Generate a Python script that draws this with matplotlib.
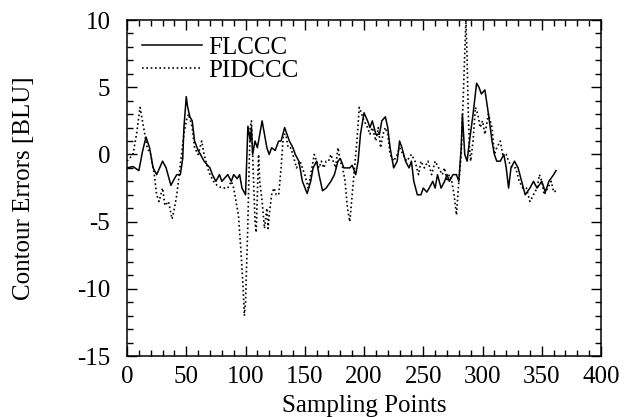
import matplotlib
matplotlib.use("Agg")
import matplotlib.pyplot as plt
from matplotlib.ticker import MultipleLocator

plt.rcParams['font.family'] = ['Liberation Serif', 'DejaVu Serif']
plt.rcParams['axes.unicode_minus'] = False

fl_x = [0, 5, 10, 13, 16, 19, 22, 25, 28, 30, 33, 37, 40, 42, 45, 47, 48, 50, 51, 53, 55, 57,
        60, 62, 65, 70, 72, 75, 78, 80, 85, 88, 90, 93, 95, 97, 100, 102, 104, 105, 106, 108,
        110, 112, 114, 116, 118, 120, 122, 125, 128, 130, 133, 135, 137, 140, 142, 145, 148,
        152, 155, 157, 160, 162, 165, 168, 172, 175, 178, 180, 183, 188, 190, 193, 195, 197,
        200, 203, 205, 207, 210, 213, 215, 218, 220, 222, 225, 228, 230, 232, 235, 238, 240,
        242, 245, 248, 250, 253, 255, 258, 260, 262, 265, 268, 270, 272, 275, 278, 280, 282,
        283, 285, 287, 289, 292, 295, 297, 299, 302, 305, 308, 310, 312, 315, 318, 320, 322,
        324, 327, 330, 333, 336, 340, 343, 346, 350, 353, 356, 360, 362]
fl_y = [-1.0, -0.9, -1.2, 0.2, 1.3, 0.5, -1.0, -1.5, -0.9, -0.5, -1.0, -2.3, -1.8, -1.5, -1.5,
        -0.3, 2.0, 4.3, 3.6, 2.8, 2.5, 1.0, 0.3, 0.0, -0.5, -1.0, -1.5, -2.0, -1.5, -2.0, -1.5,
        -2.0, -1.5, -1.8, -1.5, -2.5, -3.0, 2.1, 1.0, 2.0, 0.0, 1.0, 0.5, 1.5, 2.5, 1.5, 0.5,
        0.0, 0.5, 0.3, 1.0, 1.0, 2.0, 1.5, 1.0, 0.5, 0.0, -0.5, -2.0, -2.9, -2.0, -1.0, -0.5,
        -1.5, -2.7, -2.5, -2.0, -1.5, -0.5, -0.3, -1.0, -1.0, -0.8, -1.5, -0.5, 1.5, 3.1, 2.5,
        2.0, 2.5, 1.5, 1.5, 2.5, 2.8, 2.0, 0.5, -1.0, -0.5, 1.0, 0.5, -0.5, -1.0, -0.5, -2.0,
        -3.0, -3.0, -2.5, -2.8, -2.5, -2.0, -2.5, -1.5, -2.5, -2.0, -1.5, -2.0, -1.5, -1.5,
        -2.0, 0.5, 3.0, 0.0, -0.5, 1.0, 3.0, 5.3, 5.0, 4.5, 4.8, 3.0, 1.0, 0.0, -0.5, -0.5,
        0.0, -1.0, -2.5, -1.0, -0.5, -1.0, -2.0, -3.0, -2.5, -2.0, -2.5, -2.0, -2.8, -2.0,
        -1.5, -1.2]

pid_x = [0, 5, 8, 11, 14, 17, 20, 23, 25, 27, 30, 32, 35, 38, 40, 42, 44, 46, 48, 50, 52, 55,
         57, 60, 63, 65, 68, 70, 73, 76, 80, 85, 88, 90, 92, 94, 96, 98, 99, 100, 101, 102,
         103, 104, 105, 106, 107, 108, 109, 110, 111, 112, 114, 116, 118, 119, 120, 122, 124,
         126, 128, 130, 132, 134, 136, 138, 140, 143, 146, 148, 150, 153, 156, 158, 160, 162,
         164, 166, 168, 170, 172, 174, 176, 178, 180, 182, 184, 186, 188, 190, 192, 194, 196,
         198, 200, 203, 205, 207, 210, 212, 214, 216, 218, 220, 222, 225, 228, 230, 233, 236,
         240, 243, 246, 248, 251, 254, 257, 260, 263, 266, 268, 270, 272, 274, 276, 278, 280,
         282, 284, 286, 287, 288, 289, 290, 292, 294, 296, 298, 300, 302, 305, 308, 310, 312,
         315, 317, 320, 322, 325, 328, 331, 334, 337, 340, 343, 346, 348, 350, 352, 355, 358,
         360, 362]
pid_y = [-0.5, 0.0, 1.5, 3.5, 2.0, 0.5, 0.0, -1.5, -3.0, -3.5, -2.5, -3.8, -3.5, -4.8, -4.0,
         -3.0, -1.5, 0.0, 1.5, 2.5, 3.0, 2.0, 0.5, 0.0, 1.0, 0.0, -1.0, -1.5, -2.0, -2.3, -2.5,
         -2.5, -2.0, -2.5, -3.5, -4.5, -7.0, -10.0, -12.0, -11.0, -8.0, -5.0, -1.0, 2.0, 2.5,
         0.0, -2.5, -5.0, -5.8, -3.0, 0.0, -2.0, -3.5, -5.5, -4.0, -5.5, -4.5, -3.0, -2.5, -3.0,
         -3.0, -1.0, 1.5, 1.5, 0.5, 0.5, 0.0, -1.0, -0.5, -1.0, -1.5, -2.5, -1.0, 0.0, -0.5,
         -1.0, -0.5, -1.0, -0.5, -0.5, 0.0, -0.5, -1.0, 0.5, -0.5, -1.0, -2.0, -4.0, -5.0, -3.0,
         -1.0, 1.0, 3.5, 3.0, 2.5, 2.0, 1.5, 2.0, 1.0, 2.0, 0.5, 1.5, 2.0, 1.5, 0.0, -0.5, 0.0,
         0.5, 0.0, -0.5, 0.0, -0.5, -1.5, -0.5, -1.0, -0.5, -1.5, -0.5, -1.0, -1.5, -1.0, -2.0,
         -1.5, -2.0, -3.0, -4.5, -2.0, 0.0, 5.0, 10.0, 7.0, 3.0, 0.5, -0.5, 1.0, 3.5, 3.0, 2.0,
         2.5, 1.5, 3.0, 2.0, 0.0, 0.5, 1.0, 0.0, 0.0, -0.5, -1.0, -1.0, -2.0, -2.5, -2.5, -3.5,
         -3.0, -2.5, -1.5, -2.0, -3.0, -2.5, -2.0, -2.8, -2.7]

x_ticks = [0, 50, 100, 150, 200, 250, 300, 350, 400]
y_ticks = [-15, -10, -5, 0, 5, 10]

FS = 18

fig = plt.figure(figsize=(6.32, 4.17), dpi=100)
ax = fig.add_axes([0.201, 0.146, 0.750, 0.806])

ax.plot(fl_x, fl_y, color='black', linewidth=1.1, linestyle='-', label='FLCCC')
ax.plot(pid_x, pid_y, color='black', linewidth=1.2, linestyle=(0, (1, 1.6)), label='PIDCCC')

ax.set_xlim(0, 400)
ax.set_ylim(-15, 10)
ax.set_xticks(x_ticks)
ax.set_yticks(y_ticks)
ax.xaxis.set_minor_locator(MultipleLocator(10))
ax.yaxis.set_minor_locator(MultipleLocator(1))
ax.tick_params(which='both', direction='in', top=True, right=True, labelsize=FS, width=1)
ax.tick_params(which='major', length=7)
ax.tick_params(which='minor', length=4)
ax.tick_params(axis='x', which='major', pad=7)
ax.tick_params(axis='y', which='major', pad=12)
for s in ax.spines.values():
    s.set_linewidth(1.1)

ax.set_xlabel('Sampling Points', fontsize=FS)
ax.set_ylabel('Contour Errors [BLU]', fontsize=FS)
ax.xaxis.set_label_coords(0.5, -0.115)
ax.yaxis.set_label_coords(-0.195, 0.5)

ax.legend(loc='upper left', bbox_to_anchor=(0.032, 0.952), frameon=False, fontsize=FS,
          handlelength=2.4, handletextpad=0.24, labelspacing=0.03, borderaxespad=0.0,
          borderpad=0.0)

fig.savefig('out.png', dpi=100)
